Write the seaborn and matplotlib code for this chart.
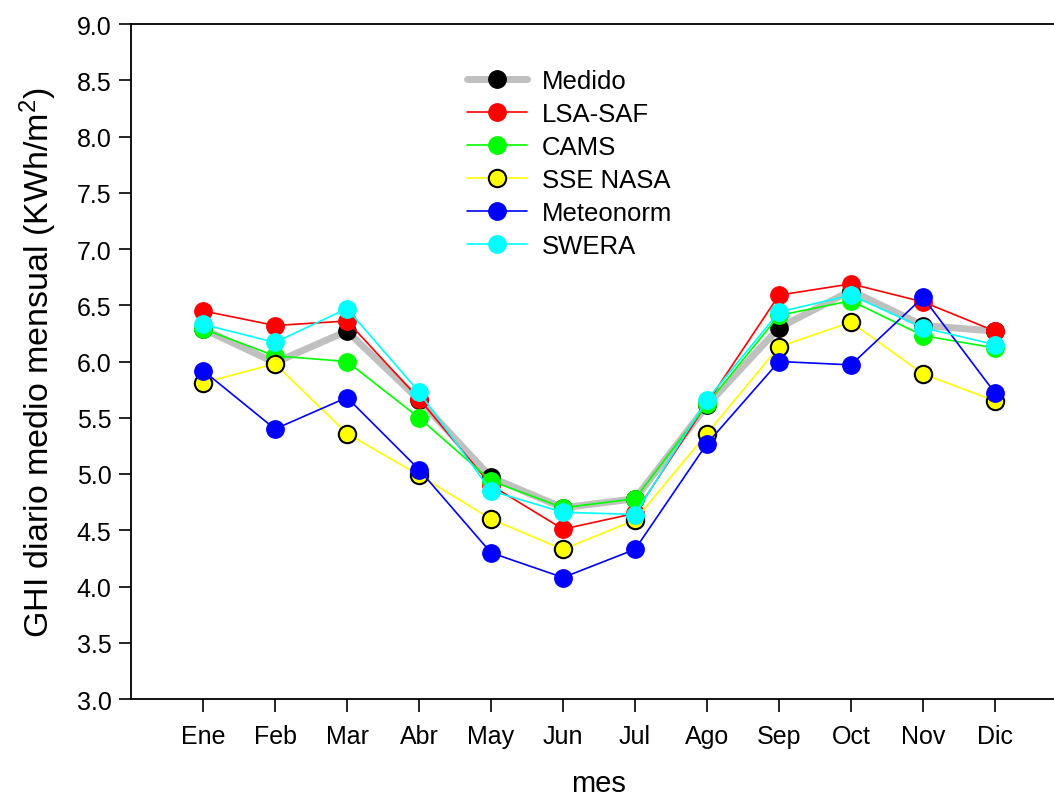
import pandas as pd
import numpy as np
import matplotlib
matplotlib.use("Agg")
import matplotlib.pyplot as plt
import seaborn as sns

# monthly values
meses = ["Ene", "Feb", "Mar", "Abr", "May", "Jun", "Jul", "Ago", "Sep", "Oct", "Nov", "Dic"]
medido = [6.29, 5.99, 6.27, 5.66, 4.97, 4.70, 4.78, 5.61, 6.30, 6.63, 6.32, 6.27]
lsa_saf = [6.45, 6.32, 6.36, 5.67, 4.90, 4.51, 4.65, 5.63, 6.59, 6.69, 6.53, 6.27]
cams = [6.29, 6.05, 6.00, 5.50, 4.94, 4.70, 4.78, 5.62, 6.41, 6.54, 6.23, 6.12]
sse_nasa = [5.81, 5.98, 5.36, 4.99, 4.60, 4.33, 4.59, 5.36, 6.13, 6.35, 5.89, 5.65]
meteonorm = [5.92, 5.40, 5.68, 5.04, 4.30, 4.08, 4.33, 5.27, 6.00, 5.97, 6.57, 5.72]
swera = [6.33, 6.17, 6.47, 5.73, 4.85, 4.66, 4.64, 5.66, 6.44, 6.59, 6.30, 6.15]

series = {
    "Medido": medido,
    "LSA-SAF": lsa_saf,
    "CAMS": cams,
    "SSE NASA": sse_nasa,
    "Meteonorm": meteonorm,
    "SWERA": swera,
}
# line colour, line width, marker face, marker edge
estilos = {
    "Medido": ("#c0c0c0", 5.0, "black", "black"),
    "LSA-SAF": ("red", 1.2, "red", "red"),
    "CAMS": ("#00ff00", 1.2, "#00ff00", "#00ff00"),
    "SSE NASA": ("yellow", 1.2, "yellow", "black"),
    "Meteonorm": ("blue", 1.2, "blue", "blue"),
    "SWERA": ("cyan", 1.2, "cyan", "cyan"),
}

sns.set_style("ticks")
plt.rcParams['font.family'] = ['Liberation Sans', 'DejaVu Sans']
plt.rcParams['mathtext.default'] = 'regular'
plt.rcParams['text.color'] = 'black'
plt.rcParams['axes.labelcolor'] = 'black'
plt.rcParams['xtick.color'] = 'black'
plt.rcParams['ytick.color'] = 'black'
plt.rcParams['axes.edgecolor'] = 'black'

fig = plt.figure(figsize=(10.54, 8.03), dpi=100)
ax = fig.add_axes([131 / 1054, 1 - 700 / 803, 936 / 1054, 675 / 803])

for nombre, valores in series.items():
    color, lw, mfc, mec = estilos[nombre]
    df = pd.DataFrame({"mes": meses, "valor": valores})
    sns.lineplot(data=df, x="mes", y="valor", ax=ax, sort=False, label=nombre,
                 color=color, linewidth=lw, marker="o", markersize=12.5,
                 markerfacecolor=mfc, markeredgecolor=mec,
                 markeredgewidth=1.5 if nombre == "SSE NASA" else 1.0)

ax.set_xlim(-1, 12)
ax.set_ylim(3.0, 9.0)
ax.set_yticks(np.arange(3.0, 9.01, 0.5))
ax.set_yticklabels([f"{v:.1f}" for v in np.arange(3.0, 9.01, 0.5)])
ax.tick_params(direction="out", length=9, width=1.2, labelsize=18, pad=5)
ax.tick_params(axis="x", pad=9)
for s in ["left", "bottom", "top"]:
    ax.spines[s].set_linewidth(1.3)
    ax.spines[s].set_visible(True)
ax.spines["right"].set_visible(False)

ax.set_xlabel("mes", fontsize=21, labelpad=15)
ax.set_ylabel("GHI diario medio mensual (KWh/m$^2$)", fontsize=24.5, labelpad=13)

ax.legend(loc="upper left", bbox_to_anchor=(0.359, 0.934), frameon=False,
          fontsize=18.5, handlelength=2.33, labelspacing=0.35, borderpad=0,
          borderaxespad=0, handletextpad=0.58)

fig.savefig("out.png", dpi=100)
